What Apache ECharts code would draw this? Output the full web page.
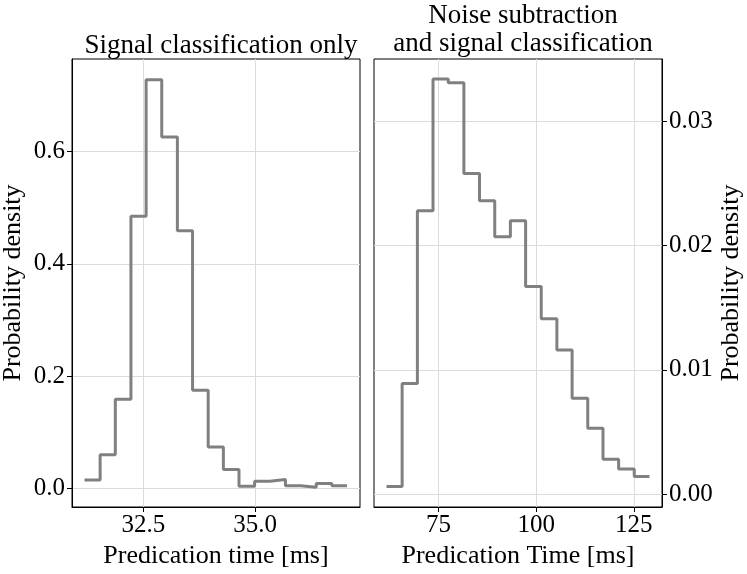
<!DOCTYPE html>
<html>
<head>
<meta charset="utf-8">
<script src="https://cdn.jsdelivr.net/npm/echarts@6/dist/echarts.min.js"></script>
<style>
    html, body { margin: 0; padding: 0; background: #fff; }
    #chart { width: 747px; height: 574px; }
</style>
</head>
<body>
<div id="chart"></div>
<script>
// bin edges and densities
var leftEdges = [31.18, 31.53, 31.87, 32.22, 32.56, 32.91, 33.26, 33.60, 33.95,
    34.29, 34.64, 34.99, 35.33, 35.68, 36.02, 36.37, 36.72, 37.06];
var leftDensity = [0.015, 0.060, 0.159, 0.485, 0.728, 0.626, 0.459, 0.175, 0.074,
    0.034, 0.004, 0.013, 0.016, 0.005, 0.002, 0.009, 0.005];

var rightEdges = [61.7, 65.7, 69.6, 73.6, 77.5, 81.5, 85.5, 89.4, 93.4,
    97.3, 101.3, 105.3, 109.2, 113.2, 117.1, 121.1, 125.1, 129.0];
var rightDensity = [0.0006, 0.0089, 0.0228, 0.0334, 0.0331, 0.0258, 0.0236, 0.0207, 0.0220,
    0.0167, 0.0141, 0.0116, 0.0077, 0.0053, 0.0028, 0.0020, 0.0014];

var leftTicksX = [32.5, 35.0];
var leftTicksY = [0, 0.2, 0.4, 0.6];
var rightTicksX = [75, 100, 125];
var rightTicksY = [0, 0.01, 0.02, 0.03];

var FONT = 'Liberation Serif';

function steps(edges, vals) {
    var pts = [];
    for (var i = 0; i < vals.length; i++) {
        pts.push([edges[i], vals[i]]);
    }
    pts.push([edges[edges.length - 1], vals[vals.length - 1]]);
    return pts;
}

function xAxis(idx, min, max, ticks, name) {
    return {
        type: 'value', gridIndex: idx, min: min, max: max,
        name: name, nameLocation: 'middle', nameGap: 34,
        nameTextStyle: { fontFamily: FONT, fontSize: 26, color: '#000' },
        axisLine: { show: true, onZero: false, lineStyle: { color: '#000', width: 1 } },
        axisTick: { show: true, inside: false, length: 5, customValues: ticks, lineStyle: { color: '#000' } },
        axisLabel: { customValues: ticks, margin: 6, fontFamily: FONT, fontSize: 25, color: '#000',
            formatter: function (v) { return idx === 0 ? v.toFixed(1) : String(v); } },
        splitLine: { show: true, lineStyle: { color: '#dcdcdc', width: 1 } }
    };
}

function yAxis(idx, min, max, ticks, pos, digits, gap) {
    return {
        type: 'value', gridIndex: idx, min: min, max: max, position: pos,
        name: 'Probability density', nameLocation: 'middle', nameGap: gap, nameRotate: 90,
        nameTextStyle: { fontFamily: FONT, fontSize: 26, color: '#000' },
        axisLine: { show: true, onZero: false, lineStyle: { color: '#000', width: 1 } },
        axisTick: { show: true, inside: false, length: 5, customValues: ticks, lineStyle: { color: '#000' } },
        axisLabel: { customValues: ticks, margin: 7, fontFamily: FONT, fontSize: 25, color: '#000',
            formatter: function (v) { return v.toFixed(digits); } },
        splitLine: { show: true, lineStyle: { color: '#dcdcdc', width: 1 } }
    };
}

var chart = echarts.init(document.getElementById('chart'));

var option = {
    animation: false,
    backgroundColor: '#fff',
    title: [{
        text: 'Signal classification only',
        left: 216, top: 27, textAlign: 'center',
        textStyle: { fontFamily: FONT, fontSize: 27, fontWeight: 'normal', color: '#000' }
    }, {
        text: 'Noise subtraction\nand signal classification',
        left: 518, top: -3, textAlign: 'center',
        textStyle: { fontFamily: FONT, fontSize: 27, fontWeight: 'normal', color: '#000', lineHeight: 28 }
    }],
    grid: [
        { left: 72, top: 59, width: 288, height: 448, show: true, borderColor: '#000', borderWidth: 1,
            outerBoundsMode: 'none' },
        { left: 374, top: 59, width: 288, height: 448, show: true, borderColor: '#000', borderWidth: 1,
            outerBoundsMode: 'none' }
    ],
    xAxis: [
        xAxis(0, 30.9, 37.35, leftTicksX, 'Predication time [ms]'),
        xAxis(1, 58.5, 132.2, rightTicksX, 'Predication Time [ms]')
    ],
    yAxis: [
        yAxis(0, -0.033, 0.765, leftTicksY, 'left', 1, 46),
        yAxis(1, -0.00105, 0.03502, rightTicksY, 'right', 2, 56)
    ],
    series: [{
        type: 'line', xAxisIndex: 0, yAxisIndex: 0, step: 'end', symbol: 'none',
        data: steps(leftEdges, leftDensity),
        lineStyle: { color: '#808080', width: 3 }
    }, {
        type: 'line', xAxisIndex: 1, yAxisIndex: 1, step: 'end', symbol: 'none',
        data: steps(rightEdges, rightDensity),
        lineStyle: { color: '#808080', width: 3 }
    }]
};

chart.setOption(option);
</script>
</body>
</html>
